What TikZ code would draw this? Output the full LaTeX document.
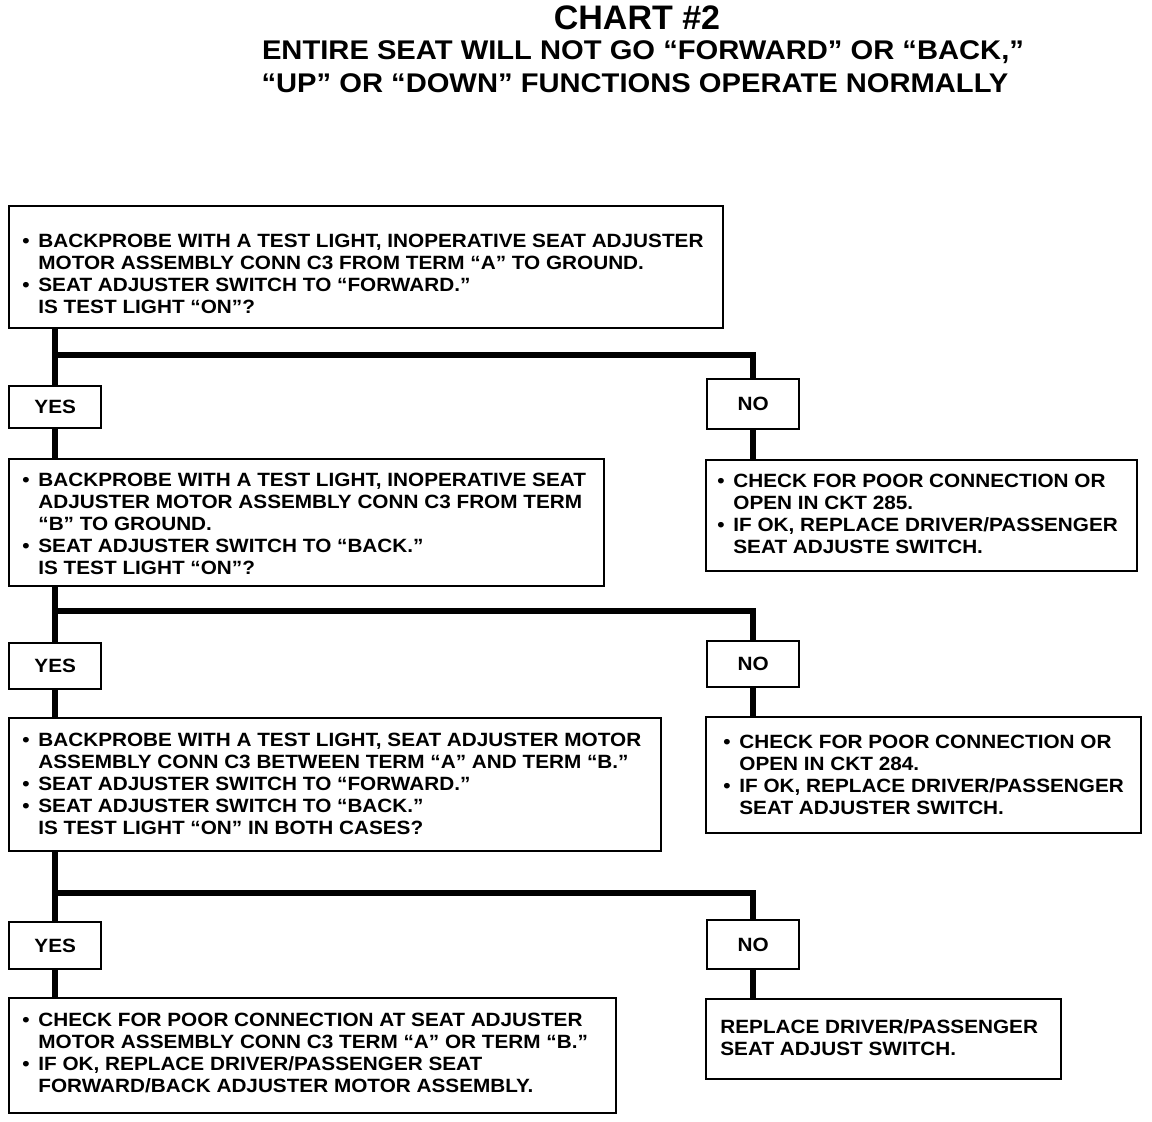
\documentclass[tikz,border=0pt]{standalone}
\usepackage{fontspec}
\setmainfont{Liberation Sans}[FakeStretch=1.08]
\newfontfamily\hdfont{Liberation Sans}
\usetikzlibrary{positioning}
\newcommand{\bl}{\makebox[8pt][l]{•}}
\newcommand{\ind}{\hspace*{8pt}}
\begin{document}
\begin{tikzpicture}[x=0.5pt,y=-0.5pt,
  box/.style={draw,line width=1.2pt,inner sep=0pt,anchor=north west},
  ans/.style={draw,line width=1.2pt,anchor=north west,minimum width=46pt,font=\fontsize{9.6pt}{10.9pt}\selectfont\bfseries},
  txt/.style={anchor=north west,align=left,inner sep=0pt,font=\fontsize{9.6pt}{10.9pt}\selectfont\bfseries,execute at begin node={\rule{0pt}{6.9pt}}},
  wire/.style={line width=3pt}]
\useasboundingbox (0,0) rectangle (1152,1122);
% heading
\node[font=\hdfont\fontsize{17pt}{20pt}\selectfont\bfseries] (ttl) at (637,18) {CHART \#2};
\node[font=\fontsize{13.5pt}{16pt}\selectfont\bfseries] (sub1) at (643,52) {ENTIRE SEAT WILL NOT GO “FORWARD” OR “BACK,”};
\node[font=\fontsize{13.5pt}{16pt}\selectfont\bfseries] (sub2) at (635,83) {“UP” OR “DOWN” FUNCTIONS OPERATE NORMALLY};
% first test
\node[box,minimum width=357pt,minimum height=61pt] (q1) at (8,205) {};
\node[txt] (t1) at ([shift={(14,29)}]q1.north west) {\bl BACKPROBE WITH A TEST LIGHT, INOPERATIVE SEAT ADJUSTER\\ \ind MOTOR ASSEMBLY CONN C3 FROM TERM “A” TO GROUND.\\ \bl SEAT ADJUSTER SWITCH TO “FORWARD.”\\ \ind IS TEST LIGHT “ON”?};
\node[ans,minimum height=21pt] (yes1) at (8,385) {YES};
\node[ans,minimum height=25pt] (no1) at (706,378) {NO};
\coordinate (j1) at (54,355);
\draw[wire] (q1.south -| yes1.north) -- (yes1.north);
\draw[wire] (j1) -| (no1.north);
% second test
\node[box,minimum width=297.5pt,minimum height=63.5pt] (q2) at (8,458) {};
\node[txt] (t2) at ([shift={(14,15)}]q2.north west) {\bl BACKPROBE WITH A TEST LIGHT, INOPERATIVE SEAT\\ \ind ADJUSTER MOTOR ASSEMBLY CONN C3 FROM TERM\\ \ind “B” TO GROUND.\\ \bl SEAT ADJUSTER SWITCH TO “BACK.”\\ \ind IS TEST LIGHT “ON”?};
\node[box,minimum width=215.5pt,minimum height=55.5pt] (r1) at (705,459) {};
\node[txt] (u1) at ([shift={(12,15)}]r1.north west) {\bl CHECK FOR POOR CONNECTION OR\\ \ind OPEN IN CKT 285.\\ \bl IF OK, REPLACE DRIVER/PASSENGER\\ \ind SEAT ADJUSTE SWITCH.};
\draw[wire] (yes1.south) -- (yes1.south |- q2.north);
\draw[wire] (no1.south) -- (no1.south |- r1.north);
\node[ans,minimum height=23pt] (yes2) at (8,642) {YES};
\node[ans,minimum height=23pt] (no2) at (706,640) {NO};
\coordinate (j2) at (54,611);
\draw[wire] (q2.south -| yes2.north) -- (yes2.north);
\draw[wire] (j2) -| (no2.north);
% third test
\node[box,minimum width=326pt,minimum height=66.5pt] (q3) at (8,717) {};
\node[txt] (t3) at ([shift={(14,16)}]q3.north west) {\bl BACKPROBE WITH A TEST LIGHT, SEAT ADJUSTER MOTOR\\ \ind ASSEMBLY CONN C3 BETWEEN TERM “A” AND TERM “B.”\\ \bl SEAT ADJUSTER SWITCH TO “FORWARD.”\\ \bl SEAT ADJUSTER SWITCH TO “BACK.”\\ \ind IS TEST LIGHT “ON” IN BOTH CASES?};
\node[box,minimum width=217.5pt,minimum height=58pt] (r2) at (705,716) {};
\node[txt] (u2) at ([shift={(18,19)}]r2.north west) {\bl CHECK FOR POOR CONNECTION OR\\ \ind OPEN IN CKT 284.\\ \bl IF OK, REPLACE DRIVER/PASSENGER\\ \ind SEAT ADJUSTER SWITCH.};
\draw[wire] (yes2.south) -- (yes2.south |- q3.north);
\draw[wire] (no2.south) -- (no2.south |- r2.north);
\node[ans,minimum height=23.5pt] (yes3) at (8,921) {YES};
\node[ans,minimum height=24.5pt] (no3) at (706,919) {NO};
\coordinate (j3) at (54,893);
\draw[wire] (q3.south -| yes3.north) -- (yes3.north);
\draw[wire] (j3) -| (no3.north);
% results
\node[box,minimum width=303.5pt,minimum height=57.5pt] (q4) at (8,997) {};
\node[txt] (t4) at ([shift={(14,16)}]q4.north west) {\bl CHECK FOR POOR CONNECTION AT SEAT ADJUSTER\\ \ind MOTOR ASSEMBLY CONN C3 TERM “A” OR TERM “B.”\\ \bl IF OK, REPLACE DRIVER/PASSENGER SEAT\\ \ind FORWARD/BACK ADJUSTER MOTOR ASSEMBLY.};
\node[box,minimum width=177.5pt,minimum height=40pt] (r3) at (705,998) {};
\node[txt] (u3) at ([shift={(15,21)}]r3.north west) {REPLACE DRIVER/PASSENGER\\ SEAT ADJUST SWITCH.};
\draw[wire] (yes3.south) -- (yes3.south |- q4.north);
\draw[wire] (no3.south) -- (no3.south |- r3.north);
\end{tikzpicture}
\end{document}
